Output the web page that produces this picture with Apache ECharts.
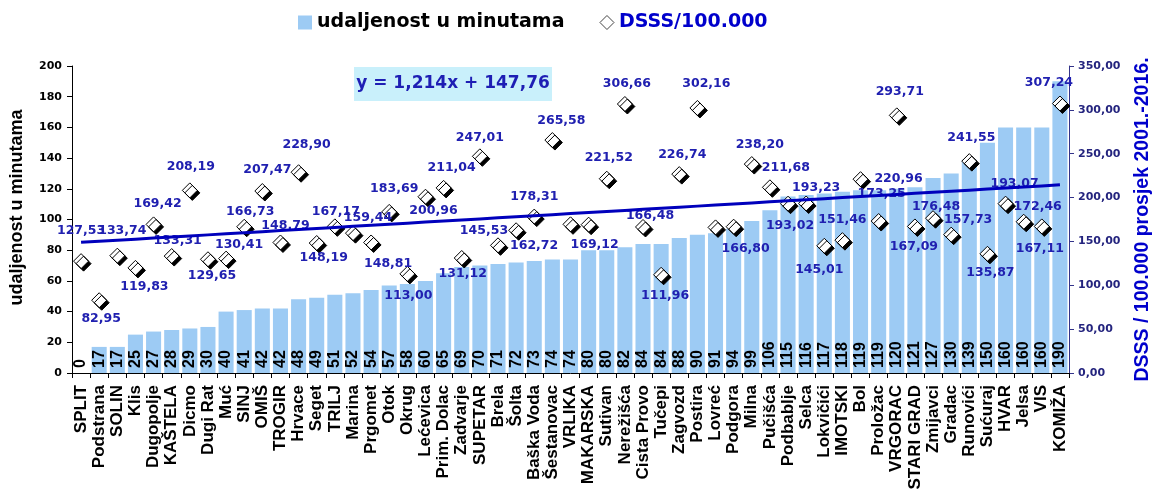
<!DOCTYPE html>
<html>
<head>
<meta charset="utf-8">
<script src="https://cdn.jsdelivr.net/npm/echarts@6/dist/echarts.min.js"></script>
<style>html,body{margin:0;padding:0;background:#fff}#c{width:1161px;height:494px}</style>
</head>
<body>
<div id="c"></div>
<script>
const categories = ['SPLIT','Podstrana','SOLIN','Klis','Dugopolje','KAŠTELA','Dicmo','Dugi Rat','Muć','SINJ','OMIŠ','TROGIR','Hrvace','Seget','TRILJ','Marina','Prgomet','Otok','Okrug','Lećevica','Prim. Dolac','Zadvarje','SUPETAR','Brela','Šolta','Baška Voda','Šestanovac','VRLIKA','MAKARSKA','Sutivan','Nerežišća','Cista Provo','Tučepi','Zagvozd','Postira','Lovreć','Podgora','Milna','Pučišća','Podbablje','Selca','Lokvičići','IMOTSKI','Bol','Proložac','VRGORAC','STARI GRAD','Zmijavci','Gradac','Runovići','Sućuraj','HVAR','Jelsa','VIS','KOMIŽA'];
const minutes = [0,17,17,25,27,28,29,30,40,41,42,42,48,49,51,52,54,57,58,60,65,69,70,71,72,73,74,74,80,80,82,84,84,88,90,91,94,99,106,115,116,117,118,119,119,120,121,127,130,139,150,160,160,160,190];
const dsss = [127.53,82.95,133.74,119.83,169.42,133.31,208.19,129.65,130.41,166.73,207.47,148.79,228.90,148.19,167.17,159.44,148.81,183.69,113.00,200.96,211.04,131.12,247.01,145.53,162.72,178.31,265.58,169.5,169.12,221.52,306.66,166.48,111.96,226.74,302.16,166.0,166.80,238.20,211.68,193.02,193.23,145.01,151.46,220.96,173.25,293.71,167.09,176.48,157.73,241.55,135.87,193.07,172.46,167.11,307.24];
const trendSlope = 1.214;
const trendIntercept = 147.76;
const seriesNames = ['udaljenost u minutama','DSSS/100.000'];
const leftAxisName = 'udaljenost u minutama';
const rightAxisName = 'DSSS / 100.000 prosjek 2001.-2016.';
const equationText = 'y = 1,214x + 147,76';

// label placement (style only): [dx, dy] from the marker, null = hidden
const labelOffsets = [[0,-30],[2,19],[5,-25],[9,19],[4,-21],[6,-15],[1,-24],[4,16],[13,-14],[6,-15],[5,-21],[5,-17],[8,-27],[7,15],[1,-15],[15,-15],[17,21],[5,-23],[1,22],[8,14],[8,-20],[1,16],[0,-19],[-14,-15],[18,15],[0,-20],[9,-19],null,[6,20],[2,-21],[2,-20],[7,-11],[4,21],[3,-19],[9,-24],null,[12,22],[8,-19],[16,-20],[2,22],[10,-16],[-5,24],[0,-20],[38,0],[3,-27],[3,-24],[-1,20],[3,-11],[17,-15],[2,-23],[3,19],[9,-20],[14,-15],[-2,22],[-11,-21]];

const fmt2 = v => v.toFixed(2).replace('.', ',');
const trend = categories.map((c, i) => +(trendSlope * (i + 1) + trendIntercept).toFixed(3));
const scatterData = dsss.map((v, i) => {
  const o = labelOffsets[i];
  return o ? {value: v, label: {offset: o}} : {value: v, label: {show: false}};
});

const chart = echarts.init(document.getElementById('c'), null, {renderer: 'canvas'});
chart.setOption({
  animation: false,
  backgroundColor: '#fff',
  legend: {
    left: 293, top: 8, itemWidth: 14, itemHeight: 14, itemGap: 35,
    data: [
      {name: seriesNames[0], icon: 'rect', itemStyle: {color: '#9dcbf4'}, textStyle: {color: '#000'}},
      {name: seriesNames[1], icon: 'diamond', itemStyle: {color: '#fff', borderColor: '#444', borderWidth: 1, shadowBlur: 0, shadowOffsetX: 0, shadowOffsetY: 0}, textStyle: {color: '#0000cc'}}
    ],
    textStyle: {fontFamily: 'DejaVu Sans', fontWeight: 'bold', fontSize: 19}
  },
  grid: {left: 71, right: 89, top: 66, bottom: 121},
  xAxis: {
    type: 'category', data: categories,
    axisLine: {lineStyle: {color: '#000', width: 1}},
    axisTick: {show: true, length: 5, lineStyle: {color: '#000'}},
    axisLabel: {interval: 0, rotate: 90, margin: 12, color: '#000', fontFamily: 'Liberation Sans', fontWeight: 'bold', fontSize: 17}
  },
  yAxis: [
    {
      type: 'value', min: 0, max: 200, interval: 20, position: 'left',
      name: leftAxisName, nameLocation: 'middle', nameGap: 46,
      nameTextStyle: {fontFamily: 'Liberation Sans', fontWeight: 'bold', fontSize: 18, color: '#000', padding: [0, 0, 0, 24]},
      axisLine: {show: true, lineStyle: {color: '#000'}},
      axisTick: {show: true, length: 5, lineStyle: {color: '#000'}},
      splitLine: {show: false},
      axisLabel: {color: '#000', fontFamily: 'DejaVu Sans', fontWeight: 'bold', fontSize: 11, margin: 10}
    },
    {
      type: 'value', min: 0, max: 350, interval: 50, position: 'right',
      name: rightAxisName, nameLocation: 'middle', nameGap: 64,
      nameTextStyle: {fontFamily: 'Liberation Sans', fontWeight: 'bold', fontSize: 19.5, color: '#0000cc'},
      axisLine: {show: true, lineStyle: {color: '#33338a'}},
      axisTick: {show: true, length: 5, lineStyle: {color: '#33338a'}},
      splitLine: {show: false},
      axisLabel: {color: '#24247e', fontFamily: 'DejaVu Sans', fontWeight: 'bold', fontSize: 11, margin: 9, formatter: fmt2}
    }
  ],
  series: [
    {
      name: seriesNames[0], type: 'bar', data: minutes, yAxisIndex: 0,
      barCategoryGap: '17%', z: 1,
      itemStyle: {color: '#9dcbf4'},
      label: {show: true, position: 'insideBottom', rotate: 90, align: 'left', verticalAlign: 'middle', distance: 5,
        color: '#000', fontFamily: 'Liberation Sans', fontWeight: 'bold', fontSize: 16}
    },
    {
      name: seriesNames[1], type: 'scatter', data: scatterData, yAxisIndex: 1, z: 3,
      symbol: 'diamond', symbolSize: 15,
      itemStyle: {color: '#fff', borderColor: '#000', borderWidth: 1, shadowColor: '#000', shadowBlur: 0, shadowOffsetX: 2.5, shadowOffsetY: 2.5, opacity: 1},
      label: {show: true, position: 'inside', formatter: p => fmt2(p.value),
        color: '#2020b0', fontFamily: 'DejaVu Sans', fontWeight: 'bold', fontSize: 12.5}
    },
    {
      name: 'trend', type: 'line', data: trend, yAxisIndex: 1, z: 4,
      symbol: 'none', silent: true,
      lineStyle: {color: '#0000bc', width: 3}
    }
  ],
  graphic: [
    {type: 'group', left: 354, top: 67, children: [
      {type: 'rect', shape: {x: 0, y: 0, width: 198, height: 34}, style: {fill: '#c9f0fb'}},
      {type: 'text', x: 99, y: 17, style: {text: equationText, fill: '#1e1eb4', font: 'bold 17px "DejaVu Sans"', textAlign: 'center', textVerticalAlign: 'middle'}}
    ]}
  ]
});
</script>
</body>
</html>
